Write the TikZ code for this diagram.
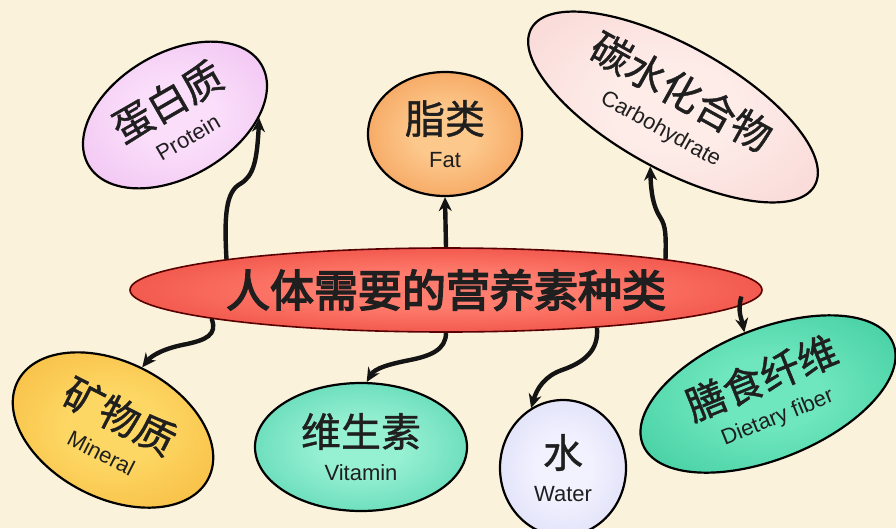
\documentclass[tikz,border=0pt]{standalone}
\usepackage{fontspec}
\setmainfont{Liberation Sans}
\newfontfamily\cjk{Noto Sans CJK SC}[FakeBold=1]
\newfontfamily\cjkb{Noto Sans CJK SC}[FakeBold=3.5]
\usetikzlibrary{shapes.geometric,arrows.meta,calc}
\definecolor{bg}{RGB}{251,242,219}
\definecolor{hubin}{RGB}{255,125,110}\definecolor{hubout}{RGB}{222,32,26}
\definecolor{proin}{RGB}{250,222,250}\definecolor{proout}{RGB}{232,170,235}
\definecolor{fatin}{RGB}{252,200,140}\definecolor{fatout}{RGB}{238,125,45}
\definecolor{carin}{RGB}{253,236,232}\definecolor{carout}{RGB}{246,200,200}
\definecolor{minin}{RGB}{253,215,100}\definecolor{minout}{RGB}{242,165,35}
\definecolor{vitin}{RGB}{150,240,210}\definecolor{vitout}{RGB}{45,195,155}
\definecolor{watin}{RGB}{242,242,255}\definecolor{watout}{RGB}{205,205,242}
\definecolor{fibin}{RGB}{110,230,190}\definecolor{fibout}{RGB}{30,185,135}
\colorlet{inC}{white}\colorlet{outC}{gray}
\pgfdeclareradialshading[inC,outC]{softrad}{\pgfpoint{0bp}{0bp}}{color(0bp)=(inC);color(10bp)=(inC);color(50bp)=(outC)}
\newcommand\twol[2]{{\cjk\fontsize{40}{34}\selectfont #1}\\#2}
\tikzset{
  blob/.style={ellipse, draw=black, line width=2.2pt, inner sep=0pt, align=center,
    text=black!88, font=\fontsize{22}{34}\selectfont},
  shd/.style 2 args={/utils/exec={\colorlet{inC}{#1}\colorlet{outC}{#2}}, shading=softrad, shade},
  arr/.style={line width=4.4pt, black!92, -{Stealth[length=14pt,width=13pt]}}
}
\begin{document}
\begin{tikzpicture}[x=1pt,y=-1pt]
\useasboundingbox (0,0) rectangle (896,528);
\clip (0,0) rectangle (896,528);
\fill[bg] (0,0) rectangle (896,528);

\node[blob, shd={hubin}{hubout}, draw=red!35!black, line width=1.6pt,
  minimum width=632pt, minimum height=84pt] (hub) at (446,290)
  {\cjkb\fontsize{44}{44}\selectfont 人体需要的营养素种类};

\node[blob, shd={proin}{proout}, rotate=30, minimum width=200pt, minimum height=124pt]
  (protein) at (175,115) {\twol{蛋白质}{Protein}};
\node[blob, shd={fatin}{fatout}, minimum width=154pt, minimum height=124pt]
  (fat) at (445,134) {\twol{脂类}{Fat}};
\node[blob, shd={carin}{carout}, rotate=-29, minimum width=324pt, minimum height=124pt]
  (carb) at (673,107) {\twol{碳水化合物}{Carbohydrate}};
\node[blob, shd={minin}{minout}, rotate=-27, minimum width=214pt, minimum height=136pt]
  (mineral) at (113,430) {\twol{矿物质}{Mineral}};
\node[blob, shd={vitin}{vitout}, minimum width=212pt, minimum height=128pt]
  (vitamin) at (361,447) {\twol{维生素}{Vitamin}};
\node[blob, shd={watin}{watout}, minimum width=126pt, minimum height=136pt]
  (water) at (563,468) {\twol{水}{Water}};
\node[blob, shd={fibin}{fibout}, rotate=22, minimum width=270pt, minimum height=130pt]
  (fiber) at (768,394) {\twol{膳食纤维}{Dietary fiber}};

\draw[arr] (hub.172.4) .. controls (224,215) and (226,192) .. (240,184)
  .. controls (254,176) and (257,160) .. (protein.-32);
\draw[arr] (hub.north) -- (fat.south);
\draw[arr] (hub.8.3) .. controls (666,235) and (666,226) .. (660,217)
  .. controls (653,206) and (651,192) .. (carb.-82);
\draw[arr] (hub.187.5) .. controls (218,335) and (205,340) .. (187,344)
  .. controls (165,348) and (152,355) .. (mineral.92);
\draw[arr] (hub.south) .. controls (446,350) and (430,356) .. (410,360)
  .. controls (390,364) and (375,368) .. (vitamin.85);
\draw[arr] (hub.346.4) .. controls (599,350) and (585,362) .. (562,370)
  .. controls (545,376) and (537,388) .. (water.118);
\draw[arr] ([yshift=9pt]hub.-3.4) .. controls (737,312) and (742,320) .. (fiber.89);
\end{tikzpicture}
\end{document}
